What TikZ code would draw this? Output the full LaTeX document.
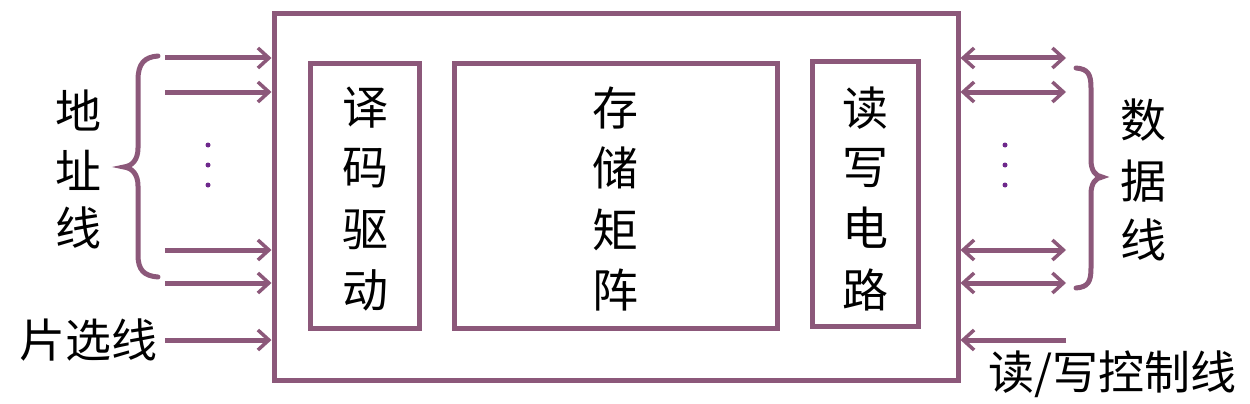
\documentclass[tikz,border=0pt]{standalone}
\usepackage{fontspec}
\newfontfamily\cjk{Noto Sans CJK SC}
\usetikzlibrary{arrows.meta,calc}
\definecolor{lineviolet}{RGB}{140,88,122}
\definecolor{dotviolet}{RGB}{110,40,140}
\tikzset{
  tip/.tip={Straight Barb[length=11pt,width=20pt,line width=3.5pt]},
  boxline/.style={draw=lineviolet,line width=5pt},
  wire/.style={draw=lineviolet,line width=5pt,-tip},
  dwire/.style={draw=lineviolet,line width=5pt,tip-tip},
  brace/.style={draw=lineviolet,line width=5pt,line cap=round},
  lbl/.style={font=\cjk\fontsize{46}{50}\selectfont,text=black,inner sep=0pt,align=center},
  vdot/.style={circle,fill=dotviolet,inner sep=0pt,minimum size=5pt}
}
\begin{document}
\begin{tikzpicture}[x=1pt,y=-1pt]
\useasboundingbox (0,0) rectangle (1250,404);
% boxes
\node[boxline,rectangle,minimum width=684pt,minimum height=366pt,inner sep=0pt] (outer) at (616,197) {};
\node[boxline,rectangle,minimum width=109pt,minimum height=264pt,inner sep=0pt] (dec) at (364.5,196) {};
\node[boxline,rectangle,minimum width=323pt,minimum height=264pt,inner sep=0pt] (mat) at (615.5,196) {};
\node[boxline,rectangle,minimum width=106pt,minimum height=264pt,inner sep=0pt] (rw) at (865,194) {};
% box texts
\node[lbl] (t1) at (365,108) {译}; \node[lbl] (t2) at (365,168) {码};
\node[lbl] (t3) at (365,230) {驱}; \node[lbl] (t4) at (365,290) {动};
\node[lbl] (m1) at (615,108) {存}; \node[lbl] (m2) at (615,168) {储};
\node[lbl] (m3) at (615,230) {矩}; \node[lbl] (m4) at (615,290) {阵};
\node[lbl] (r1) at (865,108) {读}; \node[lbl] (r2) at (865,168) {写};
\node[lbl] (r3) at (865,228) {电}; \node[lbl] (r4) at (865,290) {路};
% left wires
\foreach \i/\y in {a/58,b/92,c/250,d/283,e/340}{
  \coordinate (L\i) at (165,\y);
  \draw[wire] (L\i) -- (outer.west |- L\i);
}
% right wires
\foreach \i/\y in {a/58,b/92,c/250,d/283}{
  \coordinate (R\i) at (1066,\y);
  \draw[dwire] (outer.east |- R\i) -- (R\i);
}
\coordinate (Rc) at (1066,340);
\draw[wire] (Rc) -- (outer.east |- Rc);
% dots
\foreach \y [count=\k] in {145,165,185}{
  \node[vdot] (ld\k) at (208,\y) {};
  \node[vdot] (rd\k) at (1005,\y) {};
}
% left brace
\draw[brace] (158,56) .. controls (144,57) and (138,64) .. (138,80)
  -- (138,148) .. controls (138,160) and (132,166) .. (124,167)
  .. controls (132,168) and (138,174) .. (138,186)
  -- (138,255) .. controls (138,270) and (144,276) .. (158,277);
% right brace
\draw[brace] (1076,68) .. controls (1088,69) and (1091,74) .. (1091,88)
  -- (1091,160) .. controls (1091,170) and (1095,176) .. (1102,177)
  .. controls (1095,178) and (1091,184) .. (1091,194)
  -- (1091,268) .. controls (1091,282) and (1088,287) .. (1076,288);
% side labels
\node[lbl] (ad1) at (78,110) {地}; \node[lbl] (ad2) at (78,170) {址}; \node[lbl] (ad3) at (78,228) {线};
\node[lbl] (dt1) at (1143,120) {数}; \node[lbl] (dt2) at (1143,181) {据}; \node[lbl] (dt3) at (1143,240) {线};
\node[lbl,anchor=east] (cs) at (158,340) {片选线};
\node[lbl,anchor=west] (rwc) at (988,374) {读/写控制线};
\end{tikzpicture}
\end{document}
